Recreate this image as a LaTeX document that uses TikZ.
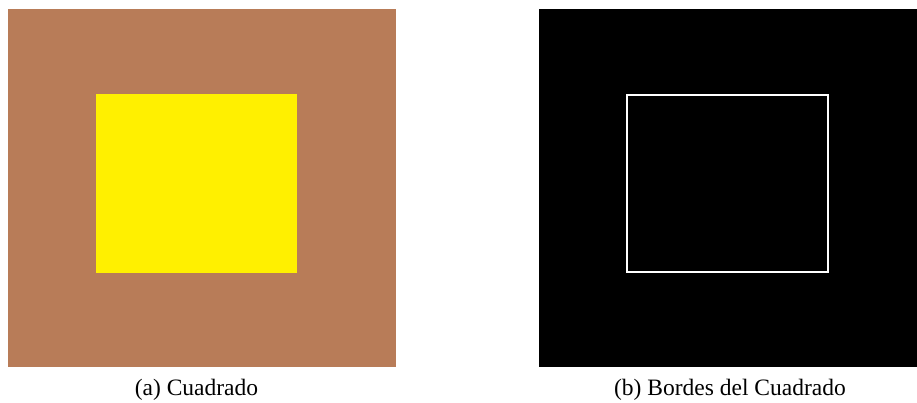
\documentclass[tikz,border=0pt]{standalone}
\usepackage{fontspec}
\setmainfont{Liberation Serif}
\definecolor{clay}{RGB}{184,124,88}
\definecolor{sunyellow}{RGB}{255,240,0}
\tikzset{
  caption/.style={anchor=base, font=\fontsize{23.5}{28}\selectfont, inner sep=0pt},
  panel/.style={draw=none, inner sep=0pt}
}
\begin{document}
\begin{tikzpicture}[x=1pt,y=-1pt]
  \useasboundingbox (0,0) rectangle (917,402);
  % left panel: filled square on a brown ground
  \fill[clay] (8,9) rectangle (396,367);
  \fill[sunyellow] (96,94) rectangle (297,273);
  % right panel: edge map of the square
  \fill[black] (539,9) rectangle (917,367);
  \draw[white, line width=2pt] (627,94.5) rectangle (828,272);
  % captions
  \node[caption] (capa) at (196.5,395) {(a) Cuadrado};
  \node[caption] (capb) at (730,395) {(b) Bordes del Cuadrado};
\end{tikzpicture}
\end{document}
